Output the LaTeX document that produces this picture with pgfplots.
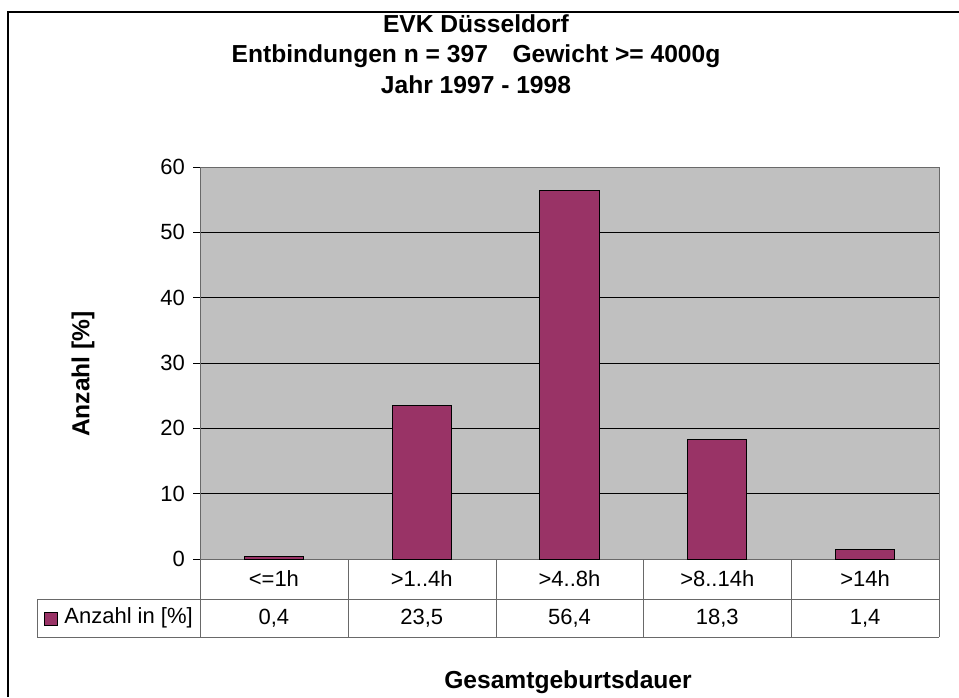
\documentclass[border=0pt]{standalone}
\usepackage{pgfplots}
\pgfplotsset{compat=1.18}
\usepackage{fontspec}
\setmainfont{Liberation Sans}
\definecolor{barcol}{RGB}{153,51,102}
\definecolor{plotbg}{RGB}{192,192,192}
\definecolor{linegray}{RGB}{105,105,105}
\newcommand{\lbl}{\fontsize{11}{13}\selectfont}
\newcommand{\ttl}{\fontsize{12.3}{14}\selectfont\bfseries}

\begin{document}
\begin{tikzpicture}[x=0.5pt,y=0.5pt]
% page = 959 x 697 px, 1px = 0.5pt
\path[use as bounding box] (0,0) rectangle (959,697);
\draw[line width=0.8pt] (8,0) -- (8,685) -- (959,685);

\begin{axis}[
    at={(100pt,69pt)}, anchor=south west,
    scale only axis, width=369.5pt, height=196pt,
    xmin=-0.5, xmax=4.5, ymin=0, ymax=60,
    xtick={0,1,2,3,4},
    xticklabels={<=1h, >1..4h, >4..8h, >8..14h, >14h},
    ytick={0,10,...,60}, ytick pos=left,
    axis background/.style={fill=plotbg},
    axis line style={linegray, line width=0.5pt},
    ymajorgrids, grid style={black, line width=0.5pt},
    tick align=outside, major tick length=3.5pt,
    x tick style={draw=none},
    y tick style={black, line width=0.5pt},
    ticklabel style={font=\lbl},
    /pgf/number format/assume math mode=true,
    xticklabel style={anchor=center, yshift=-6.5pt},
    yticklabel style={xshift=-0.5pt},
    clip=false,
  ]
  \addplot[ybar, bar width=0.4, fill=barcol, draw=black, line width=0.5pt]
    coordinates {(0,0.4) (1,23.5) (2,56.4) (3,18.3) (4,1.4)};
  % values row of the data table
  \node[font=\lbl] at (axis cs:0,0) [yshift=-29.5pt] {0,4};
  \node[font=\lbl] at (axis cs:1,0) [yshift=-29.5pt] {23,5};
  \node[font=\lbl] at (axis cs:2,0) [yshift=-29.5pt] {56,4};
  \node[font=\lbl] at (axis cs:3,0) [yshift=-29.5pt] {18,3};
  \node[font=\lbl] at (axis cs:4,0) [yshift=-29.5pt] {1,4};
\end{axis}

% data table grid
\begin{scope}[draw=linegray, line width=0.5pt]
  \draw (37,98) -- (939,98);
  \draw (37,60) -- (939,60);
  \draw (37,98) -- (37,60);
  \foreach \xx in {200,348,496,643,791,939} \draw (\xx,138) -- (\xx,60);
\end{scope}
\draw[fill=barcol, draw=black, line width=0.4pt] (44,72) rectangle (57,85);
\node[font=\lbl, anchor=west, inner sep=0pt] at (64,79) {Anzahl in [\%]};

% titles and labels
\node[font=\ttl, anchor=base] at (476,664) {EVK Düsseldorf};
\node[font=\ttl, anchor=base] at (476,634) {Entbindungen n = 397\quad Gewicht >= 4000g};
\node[font=\ttl, anchor=base] at (476,603) {Jahr 1997 - 1998};
\node[font=\ttl, anchor=base] at (568,9) {Gesamtgeburtsdauer};
\node[font=\ttl, rotate=90] at (83,323) {Anzahl [\%]};
\end{tikzpicture}
\end{document}
